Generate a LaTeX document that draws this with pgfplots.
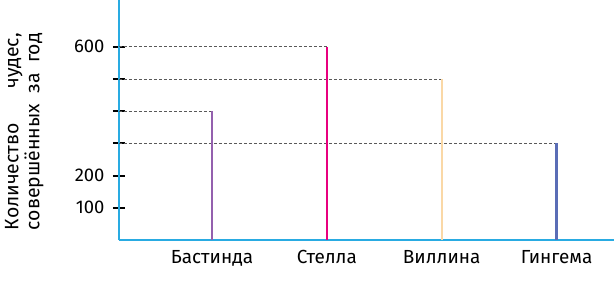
\documentclass[border=0pt]{standalone}
\usepackage{fontspec}
\setmainfont{Fira Sans}
\usepackage{pgfplots}
\pgfplotsset{compat=1.18}
\definecolor{axcyan}{HTML}{29ABE2}
\definecolor{cBast}{HTML}{9460AE}
\definecolor{cStel}{HTML}{E8007F}
\definecolor{cVill}{HTML}{FAD8A6}
\definecolor{cGing}{HTML}{5A6DB6}
\begin{document}
\begin{tikzpicture}
\useasboundingbox (-119bp,-42bp) rectangle (495bp,240bp);
\begin{axis}[
  at={(0,0)}, anchor=south west,
  scale only axis, width=495bp, height=240bp,
  xmin=0.19, xmax=4.5, ymin=0, ymax=745,
  axis lines*=left,
  axis line style={axcyan, line width=1.3pt},
  xtick={1,2,3,4},
  xticklabels={Бастинда,Стелла,Виллина,Гингема},
  major x tick style={draw=none},
  x tick label style={font=\fontsize{19}{20}\selectfont, yshift=-1bp},
  ytick={100,200,300,400,500,600},
  yticklabels={100,200,,,,600},
  y tick label style={font=\fontsize{18.5}{19}\selectfont, xshift=-5bp},
  major tick length=12bp,
  tick align=center,
  major y tick style={black, line width=2pt},
  ylabel={\begin{tabular}{@{}c@{}}\makebox[197bp][s]{Количество\ \ чудес,}\\[0bp]\makebox[197bp][s]{совершённых\ \ за\ \ год}\end{tabular}},
  ylabel style={font=\fontsize{19.5}{20}\selectfont, anchor=center, at={(axis description cs:-0.19,0.452)}},
  clip=false,
]
\addplot[gray!70!black, dash pattern=on 3bp off 2bp, line width=0.6pt] coordinates {(0.19,400) (1,400)};
\addplot[gray!70!black, dash pattern=on 3bp off 2bp, line width=0.6pt] coordinates {(0.19,600) (2,600)};
\addplot[gray!70!black, dash pattern=on 3bp off 2bp, line width=0.6pt] coordinates {(0.19,500) (3,500)};
\addplot[gray!70!black, dash pattern=on 3bp off 2bp, line width=0.6pt] coordinates {(0.19,300) (4,300)};
\addplot[cBast, line width=2.2pt] coordinates {(1,0) (1,400)};
\addplot[cStel, line width=2.2pt] coordinates {(2,0) (2,600)};
\addplot[cVill, line width=2.2pt] coordinates {(3,0) (3,500)};
\addplot[cGing, line width=2.2pt] coordinates {(4,0) (4,300)};
\end{axis}
\end{tikzpicture}
\end{document}
